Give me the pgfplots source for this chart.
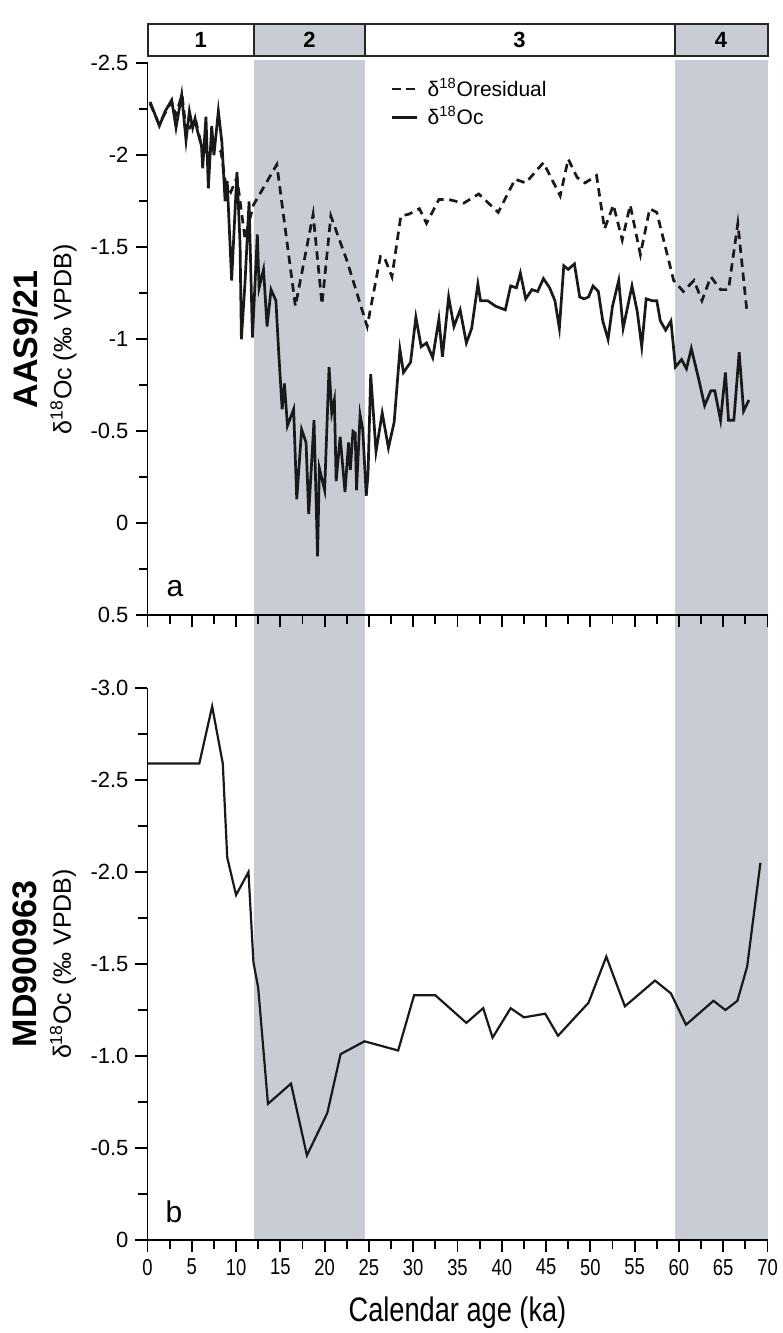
\documentclass[border=0pt]{standalone}
\usepackage{fontspec}
\setmainfont{Liberation Sans}
\newfontfamily\narrowfont[FakeStretch=0.8]{Liberation Sans}
\usepackage{pgfplots}
\pgfplotsset{compat=1.18}
\definecolor{bandgray}{RGB}{200,204,212}

\pgfplotstableread{
x y
0.3 -2.29
1.34 -2.16
2.0 -2.24
2.73 -2.30
3.22 -2.15
3.86 -2.33
4.35 -2.08
4.73 -2.24
5.1 -2.15
5.37 -2.20
5.6 -2.14
6.1 -2.05
6.23 -1.93
6.6 -2.21
6.87 -1.82
7.25 -2.16
7.5 -2.0
8.0 -2.24
8.4 -2.07
8.76 -1.75
9.0 -1.86
9.5 -1.32
10.1 -1.91
10.45 -1.52
10.6 -1.00
11.0 -1.30
11.47 -1.75
11.85 -1.01
12.4 -1.57
12.6 -1.28
13.1 -1.38
13.5 -1.07
13.95 -1.27
14.5 -1.21
14.8 -0.94
15.2 -0.62
15.46 -0.76
15.8 -0.53
16.5 -0.62
16.85 -0.13
17.4 -0.51
17.9 -0.44
18.2 -0.05
18.8 -0.56
19.2 0.18
19.4 -0.30
20.0 -0.18
20.5 -0.85
20.8 -0.60
21.1 -0.67
21.3 -0.23
21.75 -0.47
22.3 -0.17
22.7 -0.44
22.9 -0.29
23.2 -0.50
23.45 -0.49
23.6 -0.18
24.0 -0.59
24.3 -0.51
24.7 -0.15
24.9 -0.27
25.2 -0.81
25.8 -0.39
26.5 -0.60
27.2 -0.41
27.85 -0.55
28.5 -0.945
28.9 -0.82
29.7 -0.875
30.3 -1.12
30.9 -0.96
31.5 -0.98
32.2 -0.90
32.9 -1.11
33.3 -0.905
34.0 -1.23
34.6 -1.07
35.3 -1.16
36.0 -0.98
36.6 -1.06
37.3 -1.30
37.6 -1.21
38.4 -1.21
39.3 -1.18
40.4 -1.16
41.0 -1.29
41.65 -1.28
42.1 -1.36
42.7 -1.22
43.4 -1.27
44.05 -1.26
44.7 -1.33
45.4 -1.28
46.0 -1.21
46.5 -1.06
47.0 -1.40
47.5 -1.38
48.2 -1.41
48.8 -1.23
49.3 -1.22
49.8 -1.23
50.3 -1.29
50.9 -1.26
51.4 -1.10
52.0 -1.00
52.5 -1.18
53.2 -1.32
53.7 -1.06
54.7 -1.29
55.3 -1.15
55.8 -0.96
56.3 -1.22
56.97 -1.21
57.5 -1.21
57.9 -1.10
58.5 -1.05
59.1 -1.10
59.6 -0.85
60.3 -0.89
60.85 -0.84
61.4 -0.95
62.25 -0.78
62.9 -0.64
63.6 -0.72
64.05 -0.72
64.7 -0.56
65.25 -0.82
65.6 -0.56
66.2 -0.56
66.8 -0.93
67.3 -0.61
67.9 -0.67
}\ocdata

\pgfplotstableread{
x y
0.3 -2.28
1.3 -2.17
2.7 -2.29
3.2 -2.22
3.9 -2.33
4.4 -2.12
5.4 -2.20
6.1 -2.05
6.9 -2.00
7.5 -2.05
8.3 -2.02
8.8 -1.85
9.4 -1.80
10.1 -1.88
11.0 -1.55
11.96 -1.73
14.6 -1.95
16.7 -1.18
18.7 -1.68
19.7 -1.19
20.7 -1.67
22.5 -1.43
24.8 -1.07
26.3 -1.45
26.7 -1.45
27.6 -1.34
28.6 -1.67
29.5 -1.68
30.7 -1.71
31.5 -1.63
32.9 -1.76
34.0 -1.76
35.7 -1.74
37.4 -1.79
39.6 -1.69
41.5 -1.87
42.7 -1.85
44.7 -1.96
46.6 -1.78
47.5 -1.98
48.5 -1.88
49.4 -1.85
50.7 -1.89
51.6 -1.60
52.6 -1.73
53.6 -1.54
54.5 -1.73
55.65 -1.46
56.7 -1.71
57.5 -1.69
59.4 -1.32
60.5 -1.26
61.7 -1.32
62.6 -1.21
63.6 -1.34
64.7 -1.27
65.6 -1.27
66.65 -1.63
67.7 -1.14
}\resdata

\pgfplotstableread{
x y
0 -2.59
5.85 -2.59
7.3 -2.90
8.5 -2.59
9.0 -2.08
10.0 -1.875
11.4 -2.0
11.96 -1.51
12.5 -1.37
13.6 -0.74
16.2 -0.85
18.0 -0.46
20.3 -0.69
21.8 -1.01
24.5 -1.08
28.3 -1.03
30.1 -1.33
32.5 -1.33
36.0 -1.18
37.9 -1.26
38.96 -1.10
41.0 -1.26
42.5 -1.21
44.9 -1.23
46.35 -1.11
49.8 -1.29
51.8 -1.54
53.9 -1.27
57.3 -1.41
59.1 -1.34
60.8 -1.17
63.9 -1.30
65.25 -1.25
66.6 -1.30
67.7 -1.485
69.2 -2.05
}\mddata

\pgfplotsset{panel/.style={
  width=310pt, height=276pt, scale only axis,
  xmin=0, xmax=70,
  axis x line*=bottom, axis y line*=left,
  y dir=reverse,
  tick align=outside,
  xtick={0,5,...,70}, minor x tick num=1,
  minor y tick num=1,
  major tick length=6pt, minor tick length=4.5pt,
  every tick/.style={black, line width=0.9pt},
  axis line style={line width=0.9pt, black},
  /pgf/number format/assume math mode=true,
  yticklabel style={font=\fontsize{11}{13}\selectfont},
  xticklabel style={font=\narrowfont\fontsize{11.5}{13}\selectfont},
  ylabel style={align=center, font=\fontsize{12.5}{17}\selectfont, anchor=center},
  axis on top,
  clip=false,
}}

\begin{document}
\begin{tikzpicture}
\path[use as bounding box] (0pt,0pt) rectangle (391pt,-666.5pt);

% stage bar
\begin{axis}[at={(73.75pt,-20pt)}, anchor=center, width=310pt, height=16pt, scale only axis,
  xshift=155pt, xmin=0, xmax=70, ymin=0, ymax=1, hide axis, clip=false]
\addplot[fill=white, draw=black!85, line width=1pt] coordinates {(0,0) (12,0) (12,1) (0,1)} -- cycle;
\addplot[fill=bandgray, draw=black!85, line width=1pt] coordinates {(12,0) (24.6,0) (24.6,1) (12,1)} -- cycle;
\addplot[fill=white, draw=black!85, line width=1pt] coordinates {(24.6,0) (59.5,0) (59.5,1) (24.6,1)} -- cycle;
\addplot[fill=bandgray, draw=black!85, line width=1pt] coordinates {(59.5,0) (70,0) (70,1) (59.5,1)} -- cycle;
\node[font=\bfseries\fontsize{11}{11}\selectfont] at (axis cs:6,0.5) {1};
\node[font=\bfseries\fontsize{11}{11}\selectfont] at (axis cs:18.3,0.5) {2};
\node[font=\bfseries\fontsize{11}{11}\selectfont] at (axis cs:42,0.5) {3};
\node[font=\bfseries\fontsize{11}{11}\selectfont] at (axis cs:64.75,0.5) {4};
\end{axis}

% top panel
\begin{axis}[panel, at={(228.75pt,-169.65pt)}, anchor=center,
  ymin=-2.5, ymax=0.5, ytick={-2.5,-2,-1.5,-1,-0.5,0,0.5},
  xticklabels={},
  ylabel={{\fontsize{17}{17}\selectfont\bfseries AAS9/21}\\δ\textsuperscript{18}Oc (‰ VPDB)},
  ylabel style={at={(axis description cs:-0.166,0.5)}},
  legend style={at={(axis description cs:0.392,0.928)}, anchor=west, draw=none, fill=none,
    font=\fontsize{10.5}{12}\selectfont, inner sep=0pt, row sep=0.5pt, column sep=3pt,
    nodes={inner sep=1.5pt}},
  legend cell align=left,
  legend image code/.code={\draw[#1] (0pt,0pt) -- (12.5pt,0pt);},
]
\addplot[fill=bandgray, draw=none, forget plot] coordinates {(12,-2.52) (24.6,-2.52) (24.6,3.895) (12,3.895)} -- cycle;
\addplot[fill=bandgray, draw=none, forget plot] coordinates {(59.5,-2.52) (70,-2.52) (70,3.895) (59.5,3.895)} -- cycle;
\addplot[black!90, line width=1.35pt, dash pattern=on 4.2pt off 2.8pt, line join=miter] table[x=x,y=y] {\resdata};
\addlegendentry{δ\textsuperscript{18}Oresidual}
\addplot[black!90, line width=1.35pt, line join=miter] table[x=x,y=y] {\ocdata};
\addlegendentry{δ\textsuperscript{18}Oc}
\node[font=\fontsize{15}{15}\selectfont] at (axis cs:3.1,0.352) {a};
\end{axis}

% bottom panel
\begin{axis}[panel, at={(228.75pt,-482pt)}, anchor=center,
  ymin=-3, ymax=0, ytick={-3,-2.5,-2,-1.5,-1,-0.5,0},
  yticklabels={-3.0,-2.5,-2.0,-1.5,-1.0,-0.5,0},
  xlabel={Calendar age (ka)},
  xlabel style={at={(axis description cs:0.5,0)}, anchor=center, yshift=-36.5pt,
    font=\narrowfont\fontsize{17}{20}\selectfont},
  ylabel={{\fontsize{17}{17}\selectfont\bfseries MD900963}\\δ\textsuperscript{18}Oc (‰ VPDB)},
  ylabel style={at={(axis description cs:-0.166,0.5)}},
]
\addplot[black!90, line width=1.1pt, line join=miter] table[x=x,y=y] {\mddata};
\node[font=\fontsize{15}{15}\selectfont] at (axis cs:3.0,-0.152) {b};
\end{axis}
\end{tikzpicture}
\end{document}
